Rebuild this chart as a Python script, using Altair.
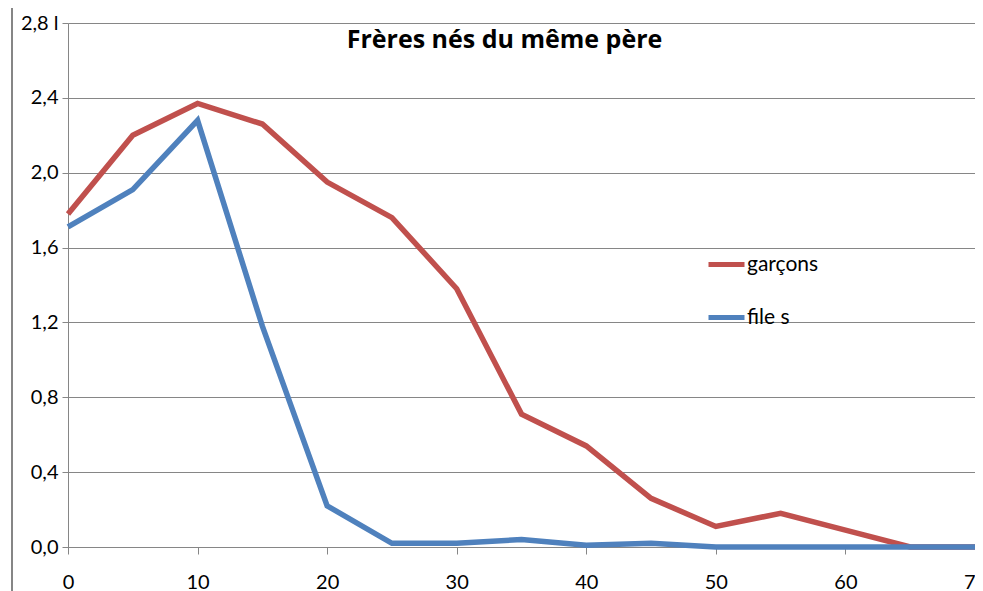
import altair as alt
import pandas as pd

ages = [0, 5, 10, 15, 20, 25, 30, 35, 40, 45, 50, 55, 60, 65, 70]
garcons = [1.78, 2.20, 2.37, 2.26, 1.95, 1.76, 1.38, 0.71, 0.54, 0.26, 0.11, 0.18, 0.09, 0.0, 0.0]
filles = [1.71, 1.91, 2.28, 1.18, 0.22, 0.02, 0.02, 0.04, 0.01, 0.02, 0.0, 0.0, 0.0, 0.0, 0.0]
series_names = ["garçons", "file s"]
series_colors = ["#C0504D", "#4F81BD"]
y_ticks = [0.0, 0.4, 0.8, 1.2, 1.6, 2.0, 2.4, 2.8]
x_ticks = [0, 10, 20, 30, 40, 50, 60, 70]
title_text = "Frères nés du même père"

rows = []
for name, vals in zip(series_names, [garcons, filles]):
    for a, v in zip(ages, vals):
        rows.append({"age": a, "valeur": v, "serie": name})
df = pd.DataFrame(rows)

FONT = "Lato"

lines = alt.Chart(df).mark_line(strokeWidth=5.5, strokeCap="butt", strokeJoin="miter").encode(
    x=alt.X("age:Q", scale=alt.Scale(domain=[0, 70], nice=False),
            axis=alt.Axis(values=x_ticks, grid=False, title=None, domainColor="#868686",
                          tickColor="#868686", tickSize=7, labelPadding=18, labelFlush=False,
                          labelOverlap=False,
                          labelFontSize=20, labelFont=FONT, labelColor="black")),
    y=alt.Y("valeur:Q", scale=alt.Scale(domain=[0, 2.8], nice=False),
            axis=alt.Axis(values=y_ticks, grid=True, gridColor="#868686", title=None,
                          domainColor="#868686", tickColor="#868686", tickSize=6,
                          labelPadding=4, labelFontSize=20, labelFont=FONT, labelColor="black",
                          labelFlush=False,
                          labelExpr="datum.value == 2.8 ? '2,8 l' : replace(format(datum.value, '.1f'), '.', ',')")),
    color=alt.Color("serie:N", sort=series_names,
                    scale=alt.Scale(domain=series_names, range=series_colors),
                    legend=alt.Legend(title=None, orient="none", legendX=638, legendY=221,
                                      symbolType="stroke", symbolSize=1296, symbolStrokeWidth=5,
                                      labelFontSize=21, labelFont=FONT, labelOffset=0,
                                      rowPadding=22, padding=0, labelColor="black")),
    order=alt.Order("age:Q"),
)

frame_top = alt.Chart(df).mark_rule(color="#a0a0a0", strokeWidth=1.5).encode(
    x=alt.value(-56), x2=alt.value(907), y=alt.value(-18))
frame_left = alt.Chart(df).mark_rule(color="#868686", strokeWidth=1.5).encode(
    x=alt.value(-56), y=alt.value(-18), y2=alt.value(600))

chart = alt.layer(frame_top, frame_left, lines).properties(
    width=907, height=524,
    autosize=alt.AutoSizeParams(type="none"),
    padding={"left": 60, "top": 15, "right": 0, "bottom": 45},
    title=alt.TitleParams(title_text, fontSize=25, font="Open Sans", fontWeight="bold",
                          anchor="middle", offset=-49, dx=-17, color="black"),
).configure_view(stroke=None)

chart.save("out.html", embed_options={"renderer": "svg", "actions": False})
